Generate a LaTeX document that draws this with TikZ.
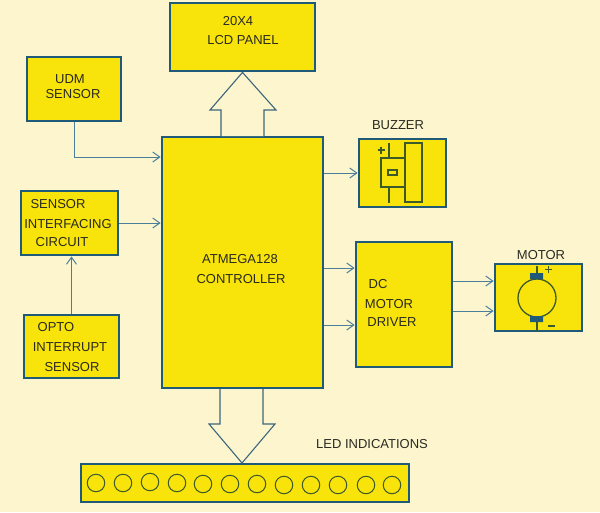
\documentclass[tikz,border=0pt]{standalone}
\usepackage{fontspec}
\setmainfont{Liberation Sans}
\usetikzlibrary{arrows.meta}
\definecolor{bgc}{HTML}{FCF5CE}
\definecolor{boxy}{HTML}{F8E40A}
\definecolor{edgec}{HTML}{1F5A78}
\definecolor{wirec}{HTML}{4A7F9C}
\definecolor{glyph}{HTML}{3C5A2A}
\definecolor{txtc}{HTML}{2A2A22}
\tikzset{
  x=1pt,y=-1pt,
  block/.style={draw=edgec,fill=boxy,line width=2.8pt,inner sep=0pt,minimum width=#1},
  lab/.style={text=txtc,font=\fontsize{13}{15}\selectfont,inner sep=0pt},
  wire/.style={draw=wirec,line width=1pt,-{Straight Barb[length=7pt,width=10pt,line width=1pt]}},
  bus/.style={draw=wirec!80!black,line width=1.1pt,fill=bgc,line join=miter},
  part/.style={draw=glyph,line width=1.3pt},
  led/.style={circle,draw=glyph,line width=1pt,minimum size=17.5pt,inner sep=0pt},
}
\begin{document}
\begin{tikzpicture}
\useasboundingbox (0,0) rectangle (600,512);
\fill[bgc] (0,0) rectangle (600,512);
% blocks
\node[block=145pt,minimum height=68pt] (lcd) at (242.5,37) {};
\node[block=94pt,minimum height=64pt] (udm) at (74,89) {};
\node[block=161pt,minimum height=251pt] (ctrl) at (242.5,262.5) {};
\node[block=87pt,minimum height=68pt] (buzz) at (402.5,173) {};
\node[block=97pt,minimum height=64pt] (sic) at (69.5,223) {};
\node[block=95pt,minimum height=63pt] (opto) at (71.5,346.5) {};
\node[block=96pt,minimum height=125pt] (drv) at (404,304.5) {};
\node[block=87pt,minimum height=67pt] (mot) at (538.5,297.5) {};
\node[block=328pt,minimum height=38pt] (ledbar) at (245,483) {};
% connector ends on block edges
\coordinate (cUdm) at (ctrl.west |- 0,157);
\coordinate (cSic) at (ctrl.west |- sic.east);
\coordinate (cBz) at (ctrl.east |- buzz.west);
\coordinate (cD1) at (ctrl.east |- 0,268);
\coordinate (cD2) at (ctrl.east |- 0,325);
\coordinate (dA) at (drv.west |- 0,268);
\coordinate (dB) at (drv.west |- 0,325);
\coordinate (dM1) at (drv.east |- 0,281);
\coordinate (dM2) at (drv.east |- 0,311);
\coordinate (mA) at (mot.west |- 0,281);
\coordinate (mB) at (mot.west |- 0,311);
\coordinate (ledTip) at (242,0 |- ledbar.north);
% wires
\draw[wire] (udm.south) |- (cUdm);
\draw[wire] (sic.east) -- (cSic);
\draw[wire] (opto.north) -- (opto.north |- sic.south);
\draw[wire] (cBz) -- (buzz.west);
\draw[wire] (cD1) -- (dA);
\draw[wire] (cD2) -- (dB);
\draw[wire] (dM1) -- (mA);
\draw[wire] (dM2) -- (mB);
% bus arrows
\draw[bus] (221,136) -- (221,110) -- (210,110) -- (lcd.south) -- (276,110) -- (264,110) -- (264,136);
\draw[bus] (220,389) -- (220,424) -- (209,424) -- (242,463) -- (275,424) -- (263,424) -- (263,389);
% buzzer glyph
\draw[part] (405,143) rectangle (422,202);
\draw[part] (381,158) rectangle (405,187);
\draw[part] (388,170) rectangle (397,175);
\draw[part] (389,143) -- (389,158) (389,187) -- (389,203);
\draw[part] (377.5,150) -- (384.5,150) (381,146.5) -- (381,153.5);
% motor glyph
\draw[part] (537,298) circle (19);
\draw[part] (537,266) -- (537,273) (537,322) -- (537,331);
\fill[edgec] (530,273) rectangle (543,279) (530,316) rectangle (543,322);
\draw[glyph,line width=1.8pt] (545,269.5) -- (552,269.5) (548.5,266) -- (548.5,273);
\draw[glyph,line width=1.8pt] (548,326) -- (555,326);
% LEDs
\foreach \i/\cx/\cy in {1/96/483,2/123/483,3/150/482,4/177/483,5/203/484,6/230/484,7/257/484,8/284/485,9/311/485,10/338/485,11/366/485,12/392/485}
  \node[led] (led\i) at (\cx,\cy) {};
% labels
\node[lab] (t1) at (238,21) {20X4};
\node[lab] (t2) at (243,40) {LCD PANEL};
\node[lab] (t3) at (70,79) {UDM};
\node[lab] (t4) at (73,94) {SENSOR};
\node[lab] (t5) at (58,204) {SENSOR};
\node[lab] (t6) at (68,224) {INTERFACING};
\node[lab] (t7) at (62,242) {CIRCUIT};
\node[lab] (t8) at (56,327) {OPTO};
\node[lab] (t9) at (70,347) {INTERRUPT};
\node[lab] (t10) at (72,367) {SENSOR};
\node[lab] (t11) at (240,259) {ATMEGA128};
\node[lab] (t12) at (241,279) {CONTROLLER};
\node[lab] (t13) at (398,125) {BUZZER};
\node[lab] (t14) at (378,284) {DC};
\node[lab] (t15) at (389,304) {MOTOR};
\node[lab] (t16) at (392,322) {DRIVER};
\node[lab] (t17) at (541,255) {MOTOR};
\node[lab] (t18) at (372,444) {LED INDICATIONS};
\end{tikzpicture}
\end{document}
